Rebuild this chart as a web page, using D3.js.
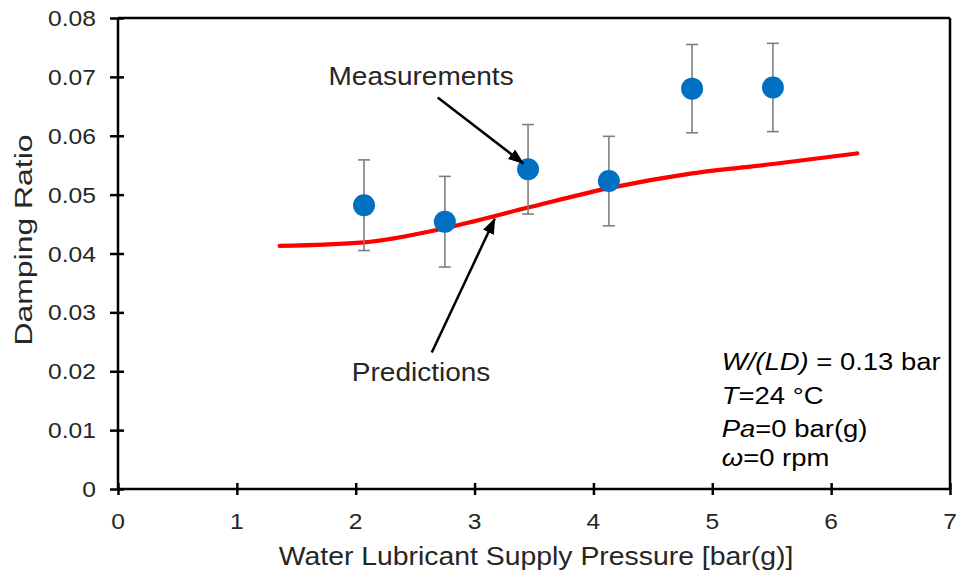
<!DOCTYPE html>
<html>
<head>
<meta charset="utf-8">
<script src="https://cdn.jsdelivr.net/npm/d3@7"></script>
<style>
  html, body { margin: 0; padding: 0; background: #fff; }
  svg { display: block; font-family: Arial, "Liberation Sans", sans-serif; }
</style>
</head>
<body>
<svg id="chart" width="962" height="579"></svg>
<script>
// Measured damping ratio vs. supply pressure, with error bars
const measPressure = [2.07, 2.75, 3.45, 4.13, 4.83, 5.51];
const measDamping  = [0.0482, 0.0454, 0.0543, 0.0523, 0.0680, 0.0682];
const measError    = [0.0077, 0.0077, 0.0076, 0.0076, 0.0075, 0.0075];

// Predicted damping ratio
const predPressure = [1.36, 2.07, 2.75, 3.45, 4.13, 4.83, 5.51, 6.22];
const predDamping  = [0.0413, 0.0419, 0.0443, 0.0478, 0.0511, 0.0536, 0.0552, 0.0570];

// Axis ticks
const xTicks = [0, 1, 2, 3, 4, 5, 6, 7];
const yTicks = [0, 0.01, 0.02, 0.03, 0.04, 0.05, 0.06, 0.07, 0.08];

// Operating conditions shown in the corner of the plot
const conditions = [
  [{ t: "W/(LD)", i: true }, { t: " = 0.13 bar", i: false }],
  [{ t: "T", i: true }, { t: "=24 °C", i: false }],
  [{ t: "Pa", i: true }, { t: "=0 bar(g)", i: false }],
  [{ t: "ω", i: true }, { t: "=0 rpm", i: false }]
];

const svg = d3.select("#chart");
const x = d3.scaleLinear().domain([0, 7]).range([118, 950]);
const y = d3.scaleLinear().domain([0, 0.08]).range([489, 18]);

const STRETCH = 1.12;   // glyphs are drawn slightly wide
const axisColor = "#000";
const axisWidth = 2.5;

// helper: horizontally stretched text anchored at (px, py)
function label(g, px, py, str, size, anchor, stretch) {
  return g.append("text")
    .attr("transform", `translate(${px},${py}) scale(${stretch || STRETCH},1)`)
    .attr("text-anchor", anchor || "start")
    .attr("font-size", size)
    .attr("fill", "#262626")
    .text(str);
}

// --- plot frame (top and right border) ---
svg.append("line")
  .attr("x1", x(0)).attr("x2", x(7)).attr("y1", y(0.08)).attr("y2", y(0.08))
  .attr("stroke", axisColor).attr("stroke-width", axisWidth);
svg.append("line")
  .attr("x1", x(7)).attr("x2", x(7)).attr("y1", y(0.08)).attr("y2", y(0))
  .attr("stroke", axisColor).attr("stroke-width", axisWidth);

// --- x axis ---
const xAxis = svg.append("g")
  .attr("transform", `translate(0,${y(0)})`)
  .call(d3.axisBottom(x).tickValues(xTicks).tickSize(6).tickFormat(""));
xAxis.select(".domain").attr("stroke", axisColor).attr("stroke-width", axisWidth)
  .attr("d", `M${x(0)},0H${x(7)}`);
xAxis.selectAll(".tick line").attr("y1", -6).attr("y2", 6)
  .attr("stroke", axisColor).attr("stroke-width", axisWidth);
xTicks.forEach(v => label(svg, x(v), 529, d3.format("d")(v), 22, "middle"));

// --- y axis ---
const yAxis = svg.append("g")
  .attr("transform", `translate(${x(0)},0)`)
  .call(d3.axisLeft(y).tickValues(yTicks).tickSize(7).tickFormat(""));
yAxis.select(".domain").attr("stroke", axisColor).attr("stroke-width", axisWidth)
  .attr("d", `M0,${y(0)}V${y(0.08)}`);
yAxis.selectAll(".tick line").attr("x1", -8).attr("x2", 6)
  .attr("stroke", axisColor).attr("stroke-width", axisWidth);
yTicks.forEach(v => label(svg, 96, y(v) + 8, v === 0 ? "0" : d3.format(".2f")(v), 22, "end"));

// --- axis titles ---
label(svg, (x(0) + x(7)) / 2 + 2, 565, "Water Lubricant Supply Pressure [bar(g)]", 25, "middle", 1.135);
svg.append("text")
  .attr("transform", `translate(32,240) rotate(-90) scale(1.33,1)`)
  .attr("text-anchor", "middle")
  .attr("font-size", 24)
  .attr("fill", "#262626")
  .text("Damping Ratio");

// --- predictions curve ---
const pred = predPressure.map((p, i) => [p, predDamping[i]]);
svg.append("path")
  .datum(pred)
  .attr("fill", "none")
  .attr("stroke", "#ff0000")
  .attr("stroke-width", 4.2)
  .attr("stroke-linecap", "round")
  .attr("d", d3.line().x(d => x(d[0])).y(d => y(d[1])).curve(d3.curveMonotoneX));

// --- measurements with error bars ---
const meas = measPressure.map((p, i) => ({ p, v: measDamping[i], e: measError[i] }));
const eb = svg.append("g").attr("stroke", "#7f7f7f").attr("stroke-width", 1.6);
meas.forEach(d => {
  eb.append("line").attr("x1", x(d.p)).attr("x2", x(d.p))
    .attr("y1", y(d.v + d.e)).attr("y2", y(d.v - d.e));
  [d.v + d.e, d.v - d.e].forEach(c =>
    eb.append("line").attr("x1", x(d.p) - 6).attr("x2", x(d.p) + 6)
      .attr("y1", y(c)).attr("y2", y(c)));
});
svg.append("g").selectAll("circle").data(meas).join("circle")
  .attr("cx", d => x(d.p)).attr("cy", d => y(d.v)).attr("r", 11)
  .attr("fill", "#0070c0");

// --- annotation arrows ---
svg.append("defs").append("marker")
  .attr("id", "head").attr("viewBox", "0 0 16 12")
  .attr("refX", 15).attr("refY", 6)
  .attr("markerWidth", 16).attr("markerHeight", 12)
  .attr("markerUnits", "userSpaceOnUse").attr("orient", "auto")
  .append("path").attr("d", "M0,0L16,6L0,12Z").attr("fill", "#000");

const arrows = [
  { from: [2.69, 0.0665], to: [3.41, 0.0553] },
  { from: [2.64, 0.0232], to: [3.17, 0.0459] }
];
arrows.forEach(a => {
  svg.append("line")
    .attr("x1", x(a.from[0])).attr("y1", y(a.from[1]))
    .attr("x2", x(a.to[0])).attr("y2", y(a.to[1]))
    .attr("stroke", "#000").attr("stroke-width", 2.5)
    .attr("marker-end", "url(#head)");
});

label(svg, x(2.55), y(0.0686), "Measurements", 25, "middle");
label(svg, x(2.55), y(0.0183), "Predictions", 25, "middle");

// --- operating conditions ---
const baselines = [0.0202, 0.0144, 0.0088, 0.0039];
conditions.forEach((parts, i) => {
  const t = label(svg, x(5.08), y(baselines[i]), "", 24.5, "start").attr("fill", "#000");
  parts.forEach(p => t.append("tspan")
    .attr("font-style", p.i ? "italic" : "normal")
    .text(p.t));
});
</script>
</body>
</html>
